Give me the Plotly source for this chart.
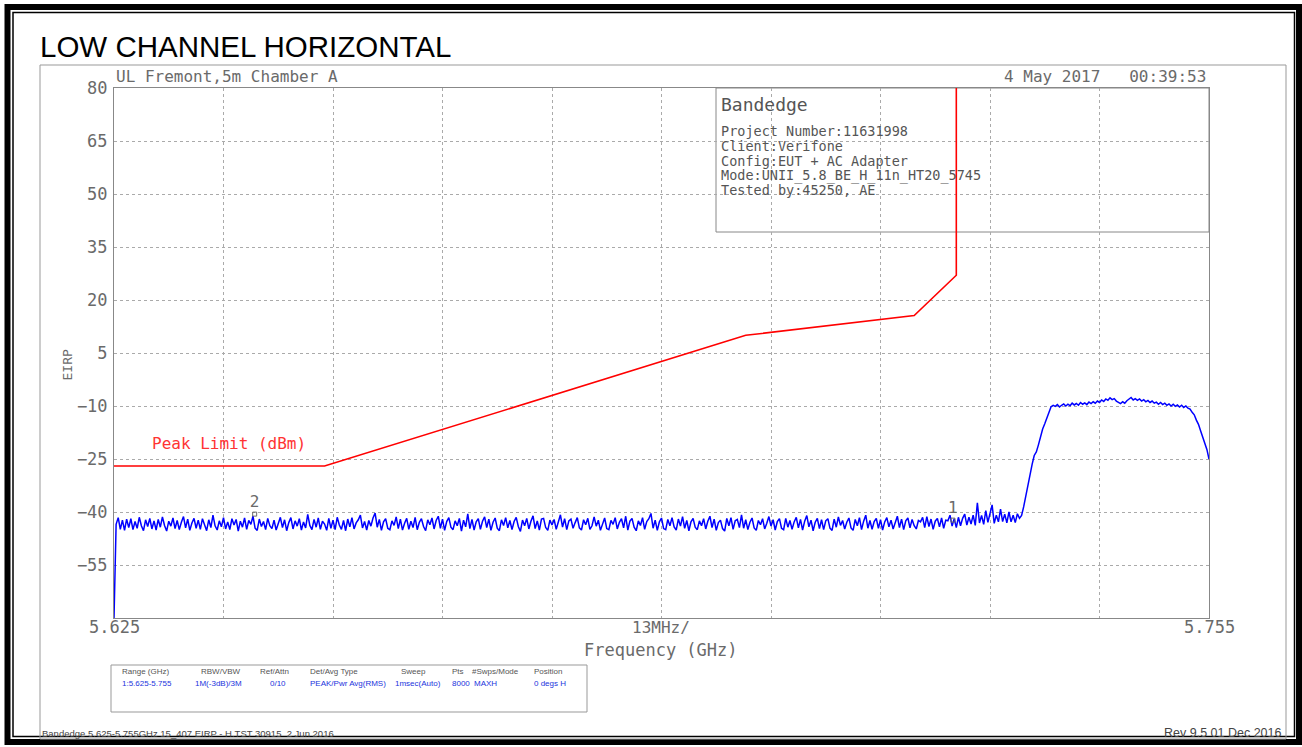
import numpy as np
import plotly.graph_objects as go

# sweep 5.625 - 5.755 GHz, trace at ~0.25 MHz steps
f_start = 5.625
f_stop = 5.755

# noise floor, first point is the trace starting at the bottom of the screen
noise_floor_dbm = [
    -70,
    -43.5, -41.6, -44.9, -42.3, -45.2, -42.0, -44.4, -41.9, -45.0, -42.7, -44.6, -41.5, -43.9, -45.3, -42.2, -44.1, -41.8, -44.8, -42.5, -45.1,
    -42.1, -44.3, -41.4, -43.8, -45.4, -42.6, -44.0, -41.7, -44.7, -42.4, -45.0, -42.9, -41.3, -44.5, -42.0, -45.2, -43.1, -41.8, -44.6, -42.3,
    -44.9, -41.9, -43.6, -45.3, -42.2, -44.4, -40.9, -43.9, -45.1, -42.5, -44.2, -41.6, -44.8, -42.8, -45.0, -41.9, -43.7, -42.1, -45.4, -42.6,
    -44.3, -41.7, -44.9, -42.4, -43.5, -41.2, -44.6, -45.2, -42.0, -44.1, -42.7, -45.0, -41.8, -43.9, -44.7, -42.3, -45.1, -42.9, -41.5, -44.4,
    -42.2, -45.3, -43.0, -41.6, -44.8, -42.5, -44.0, -41.9, -45.1, -42.8, -44.5, -40.7, -43.8, -45.0, -42.1, -44.3, -41.7, -44.9, -42.6, -43.4,
    -45.2, -41.8, -44.6, -42.3, -45.0, -41.5, -43.7, -44.9, -42.4, -45.3, -42.0, -44.2, -41.6, -44.8, -43.1, -42.2, -40.9, -44.5, -42.7, -45.1,
    -42.4, -44.0, -41.7, -40.3, -44.3, -42.1, -45.2, -42.8, -41.9, -44.6, -45.0, -42.5, -43.8, -41.4, -44.7, -42.0, -45.1, -43.2, -41.8, -44.9,
    -42.6, -44.4, -41.5, -45.0, -42.9, -41.9, -44.1, -45.3, -42.2, -43.6, -41.7, -44.8, -42.4, -41.2, -44.6, -42.0, -45.2, -42.7, -41.6, -44.3,
    -45.0, -42.5, -43.9, -41.8, -45.4, -42.3, -44.2, -40.5, -44.7, -42.1, -45.1, -42.8, -41.9, -44.9, -42.6, -41.4, -44.4, -42.0, -45.2, -42.9,
    -41.7, -44.6, -45.3, -42.2, -43.8, -41.6, -44.5, -42.4, -45.0, -42.7, -41.5, -44.1, -45.5, -42.3, -43.9, -41.8, -44.8, -42.6, -41.1, -44.7,
    -42.5, -45.1, -42.0, -41.8, -44.4, -45.2, -42.3, -43.7, -42.1, -44.9, -42.8, -40.8, -44.3, -41.9, -45.0, -42.5, -42.0, -44.6, -43.0, -41.6,
    -44.5, -45.1, -42.2, -43.6, -41.8, -44.9, -43.9, -41.4, -44.0, -42.3, -45.2, -43.1, -41.7, -44.7, -45.0, -42.4, -43.5, -41.6, -44.8, -42.9,
    -41.9, -44.5, -41.2, -45.1, -42.6, -41.8, -44.3, -45.3, -42.5, -43.8, -41.6, -44.9, -42.7, -41.9, -40.4, -44.6, -42.3, -45.2, -42.8, -41.7,
    -44.7, -45.0, -42.1, -43.9, -41.6, -44.2, -45.1, -42.0, -44.0, -41.3, -44.6, -42.4, -45.3, -42.8, -41.8, -44.3, -45.0, -42.5, -43.9, -41.9,
    -44.8, -42.6, -41.2, -44.4, -42.0, -45.2, -43.0, -42.3, -44.7, -45.4, -41.8, -43.9, -41.6, -44.9, -42.5, -42.1, -44.4, -40.8, -44.6, -42.2,
    -45.0, -42.9, -41.7, -44.5, -45.2, -42.4, -43.6, -41.9, -44.8, -43.2, -41.3, -44.0, -42.2, -45.1, -42.7, -41.9, -44.6, -45.0, -41.8, -44.3,
    -42.4, -44.9, -42.8, -41.5, -44.5, -42.1, -45.1, -42.6, -41.0, -44.2, -42.3, -45.3, -42.9, -41.8, -44.7, -42.2, -45.0, -42.5, -41.9, -44.6,
    -45.2, -42.0, -44.3, -41.4, -43.8, -42.4, -44.8, -42.9, -41.7, -44.5, -45.2, -42.1, -43.9, -41.6, -45.0, -42.6, -40.9, -44.6, -42.4, -44.9,
    -42.7, -41.8, -44.6, -42.2, -45.1, -42.8, -41.6, -44.2, -42.3, -44.8, -42.9, -41.2, -44.4, -42.0, -45.0, -42.5, -41.7, -44.5, -42.1, -43.9,
    -44.8, -42.4, -42.8, -41.5, -44.4, -41.3, -44.1, -42.0, -44.9, -42.6, -41.8, -44.2, -41.7, -44.6, -42.3, -42.5, -40.9, -44.0, -41.9, -44.4,
    -41.5, -43.9, -41.8, -40.6, -43.7, -41.5, -43.4, -40.9, -43.8, -37.4, -43.1, -41.0, -43.5, -39.6, -42.9, -40.8, -38.0, -43.2, -40.9, -42.8,
    -39.2, -42.7, -40.6, -43.1, -40.0, -42.8, -40.9, -43.0, -40.5,
]
# carrier skirt, top of the signal, upper band edge rolloff
rise_dbm = [-41.8, -41.0, -38.5, -35.5, -31.5, -28.5, -26.5, -24.0, -23.0, -21.0,
            -18.5, -16.5, -15.0, -13.5, -11.5, -10.2, -9.8]
plateau_dbm = [
    -10.1, -9.6, -10.3, -9.8, -9.4, -10.0, -9.5, -9.9, -9.2, -9.7, -9.3, -9.8, -9.0, -9.5, -9.1, -9.6,
    -8.9, -9.3, -8.8, -9.2, -8.6, -9.0, -8.3, -8.7, -8.0, -8.4, -7.7, -8.2, -7.9, -8.6, -8.9, -9.3,
    -8.8, -9.2, -8.5, -8.1, -7.6, -8.3, -7.9, -8.4, -8.0, -8.6, -8.2, -8.8, -8.4, -9.0, -8.6, -9.2,
    -8.9, -9.5, -9.0, -9.6, -9.2, -9.8, -9.4, -10.0, -9.5, -10.1, -9.7, -10.3, -9.8, -10.4, -10.0, -10.6,
]
rolloff_dbm = [-10.9, -11.8, -12.5, -14.0, -15.2, -17.0, -18.6, -20.5, -22.3, -25.0]

# FCC 15.407 peak limit mask
limit_freq = [5.625, 5.650, 5.700, 5.720, 5.725, 5.725]
limit_dbm = [-27, -27, 10, 15.6, 27, 80]

marker_freq = [5.7246, 5.6417]
marker_dbm = [-42.3, -40.6]
marker_lbl = ["1", "2"]

y_ticks = [80, 65, 50, 35, 20, 5, -10, -25, -40, -55]

info_lines = ["Project Number:11631998", "Client:Verifone", "Config:EUT + AC Adapter",
              "Mode:UNII_5.8_BE_H_11n_HT20_5745", "Tested by:45250, AE"]

tbl_head = ["Range (GHz)", "RBW/VBW", "Ref/Attn", "Det/Avg Type", "Sweep", "Pts", "#Swps/Mode", "Position"]
tbl_vals = ["1:5.625-5.755", "1M(-3dB)/3M", "0/10", "PEAK/Pwr Avg(RMS)", "1msec(Auto)", "8000", "MAXH", "0 degs H"]
tbl_head_x = [120, 199, 258, 308, 399, 450, 470, 532]
tbl_vals_x = [120, 193, 268, 308, 393, 450, 472, 532]

trace_dbm = noise_floor_dbm + rise_dbm + plateau_dbm + rolloff_dbm
freq = np.linspace(f_start, f_stop, len(trace_dbm))

# screen pixel -> paper coords (plot area is 114..1209 x 88..618)
L, R, T, B = 114, 1209, 88, 618
def px(x):
    return (x - L) / (R - L)
def py(y):
    return (B - y) / (B - T)

mono = "DejaVu Sans Mono"
grey = "#6a6a6a"
narrow = "Liberation Sans Narrow, Liberation Sans, Arial"

fig = go.Figure()
fig.add_trace(go.Scatter(x=freq, y=trace_dbm, mode="lines",
                         line=dict(color="#0000ff", width=1.5), hoverinfo="skip"))
fig.add_trace(go.Scatter(x=limit_freq, y=limit_dbm, mode="lines",
                         line=dict(color="#ff0000", width=1.6), hoverinfo="skip"))
fig.add_trace(go.Scatter(x=marker_freq, y=marker_dbm, mode="markers+text", text=marker_lbl,
                         textposition="top center",
                         textfont=dict(family=mono, size=16, color=grey),
                         marker=dict(symbol="square-open", size=4, color=grey, line=dict(width=1))))

shapes = []
# outer double black border
shapes.append(dict(type="rect", xref="paper", yref="paper", x0=px(7.5), x1=px(1299), y0=py(742), y1=py(7),
                   line=dict(color="black", width=6)))
shapes.append(dict(type="rect", xref="paper", yref="paper", x0=px(13), x1=px(1294.5), y0=py(736.5), y1=py(12.5),
                   line=dict(color="black", width=1.5)))
# grey frame of the screen capture
shapes.append(dict(type="rect", xref="paper", yref="paper", x0=px(40), x1=px(1286), y0=py(739), y1=py(65),
                   line=dict(color="#999999", width=1)))
# info box over the grid
shapes.append(dict(type="rect", xref="paper", yref="paper", x0=px(716), x1=px(1209), y0=py(232), y1=py(88),
                   line=dict(color="#888888", width=1), fillcolor="white", layer="between"))
# settings table box
shapes.append(dict(type="rect", xref="paper", yref="paper", x0=px(111), x1=px(587), y0=py(712), y1=py(665),
                   line=dict(color="#999999", width=1)))

ann = []
def text(x, y, s, size, color=grey, family=mono, xanchor="left", angle=0):
    ann.append(dict(x=px(x), y=py(y), xref="paper", yref="paper", text=s, showarrow=False,
                    xanchor=xanchor, yanchor="middle", textangle=angle,
                    font=dict(family=family, size=size, color=color)))

text(38, 47, "LOW CHANNEL HORIZONTAL", 29.5, "black", "Liberation Sans, Arial")
text(114, 77, "UL Fremont,5m Chamber A", 16)
text(1208, 77, "4 May 2017   00:39:53", 16, xanchor="right")
text(719, 104, "Bandedge", 18, "#555555")
for k, s in enumerate(info_lines):
    text(719, 131 + k * 14.8, s, 13.5, "#555555")
text(150, 443, "Peak Limit (dBm)", 16, "#ff3333")
text(57, 365, "EIRP", 13, angle=-90)
text(114, 627, "5.625", 17, xanchor="center")
text(1209, 627, "5.755", 17, xanchor="center")
text(661, 627, "13MHz/", 16, xanchor="center")
text(661, 650, "Frequency (GHz)", 17, xanchor="center")
for s, x in zip(tbl_head, tbl_head_x):
    text(x, 671, s, 8, "#555555", narrow)
for s, x in zip(tbl_vals, tbl_vals_x):
    text(x, 683, s, 8, "#2233dd", narrow)
text(40, 733, "Bandedge 5.625-5.755GHz 15_407 EIRP - H.TST 30915  2 Jun 2016", 9.5, "#444444", narrow)
text(1283, 733, "Rev 9.5 01 Dec 2016", 12.5, "#444444", narrow, xanchor="right")

fig.update_layout(
    width=1302, height=747,
    margin=dict(l=L, r=1302 - R, t=T, b=747 - B),
    paper_bgcolor="white", plot_bgcolor="white",
    showlegend=False,
    shapes=shapes, annotations=ann,
    xaxis=dict(range=[f_start, f_stop], tickvals=list(np.linspace(f_start, f_stop, 11)),
               showticklabels=False, ticks="", showgrid=True, gridcolor="#aaaaaa", griddash="dot",
               showline=True, linecolor="#888888", linewidth=1, mirror=True, zeroline=False),
    yaxis=dict(range=[-70, 80], tickvals=y_ticks, ticks="", showgrid=True, gridcolor="#aaaaaa",
               griddash="dot", showline=True, linecolor="#888888", linewidth=1, mirror=True,
               zeroline=False, tickfont=dict(family=mono, size=17, color=grey), ticklabelstandoff=2),
)

fig.write_html("out.html", config={"displayModeBar": False},
               post_script="document.body.style.margin='0';")
